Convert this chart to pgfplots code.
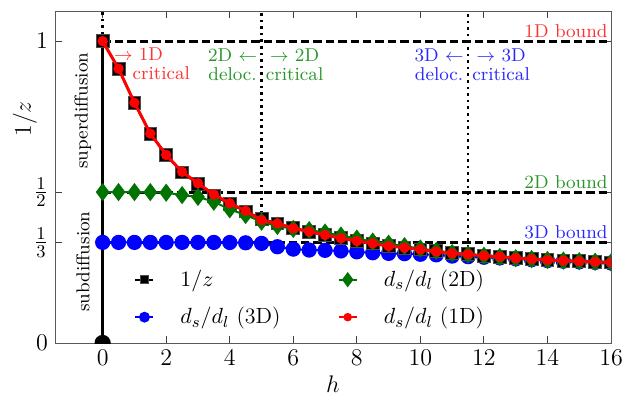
\documentclass[border=0pt]{standalone}
\usepackage{pgfplots}
\pgfplotsset{compat=1.18}
\definecolor{dgreen}{RGB}{0,115,0}
\definecolor{tgreen}{RGB}{40,150,40}
\definecolor{tred}{RGB}{255,50,50}
\definecolor{tblue}{RGB}{40,40,255}
\begin{document}
\begin{tikzpicture}
\begin{axis}[
  scale only axis, width=278pt, height=166pt,
  xmin=-1.5, xmax=16, ymin=0, ymax=1.1,
  xtick={0,2,...,16},
  ytick={0,0.333333,0.5,1},
  yticklabels={$0$,$\frac{1}{3}$,$\frac{1}{2}$,$1$},
  tick align=inside, major tick length=3.5pt,
  axis line style={black!65}, tick style={black!75, line width=0.5pt},
  ticklabel style={font=\fontsize{12.5}{14}\selectfont},
  label style={font=\fontsize{12.5}{14}\selectfont},
  xlabel={$h$}, ylabel={$1/z$},
  ylabel style={at={(axis description cs:-0.054,0.675)}, anchor=center},
  xlabel style={at={(axis description cs:0.5,-0.125)}, anchor=center},
  clip marker paths=true,
  legend columns=2, transpose legend,
  legend image code/.code={\draw[mark repeat=2,mark phase=2,#1] plot coordinates {(0pt,0pt)(4.5pt,0pt)(9pt,0pt)};},
  legend style={draw=none, fill=none, at={(axis cs:0.8,0.27)}, anchor=north west,
    font=\fontsize{11}{13}\selectfont, row sep=5pt,
    /tikz/every even column/.append style={column sep=26.5pt},
    /tikz/every odd column/.append style={column sep=11pt}},
  legend cell align=left,
]
% legend images
\addlegendimage{black, line width=1pt, mark=square*, mark size=2pt, mark options={fill=black, draw=black!70, line width=0.4pt}}
\addlegendentry{$1/z$}
\addlegendimage{blue, line width=1pt, mark=*, mark size=2.2pt, mark options={fill=blue, draw=blue}}
\addlegendentry{$d_s/d_l$ (3D)}
\addlegendimage{dgreen, line width=1pt, mark=diamond*, mark size=3pt, mark options={fill=dgreen, draw=dgreen}}
\addlegendentry{$d_s/d_l$ (2D)}
\addlegendimage{red, line width=1.2pt, mark=*, mark size=1.5pt, mark options={fill=red, draw=red}}
\addlegendentry{$d_s/d_l$ (1D)}

% guide lines
\addplot[forget plot, black, line width=1.5pt, dash pattern=on 4.2pt off 2pt] coordinates {(0,1) (16,1)};
\addplot[forget plot, black, line width=1.5pt, dash pattern=on 4.2pt off 2pt] coordinates {(0,0.5) (16,0.5)};
\addplot[forget plot, black, line width=1.5pt, dash pattern=on 4.2pt off 2pt] coordinates {(0,0.333333) (16,0.333333)};
\addplot[forget plot, black, line width=1.3pt, dash pattern=on 1.3pt off 2pt] coordinates {(0,1) (0,1.1)};
\addplot[forget plot, black, line width=1.3pt, dash pattern=on 1.3pt off 2pt] coordinates {(5,0.407) (5,1.1)};
\addplot[forget plot, black, line width=1.3pt, dash pattern=on 1.3pt off 2pt] coordinates {(11.5,0.294) (11.5,1.1)};
\addplot[forget plot, black, line width=1.5pt, mark=*, mark size=3.3pt, mark indices={1}] coordinates {(0,0) (0,1)};

% 3D (blue)
\addplot[forget plot, blue, line width=1pt, mark=*, mark size=3.3pt, mark options={fill=blue, draw=blue}] coordinates {
(0,0.3333)(0.5,0.3333)(1,0.3333)(1.5,0.3333)(2,0.3333)(2.5,0.3333)(3,0.3333)(3.5,0.3333)(4,0.333)(4.5,0.332)
(5,0.330)(5.5,0.319)(6,0.311)(6.5,0.308)(7,0.307)(7.5,0.305)(8,0.302)(8.5,0.299)(9,0.297)(9.5,0.296)
(10,0.294)(10.5,0.292)(11,0.288)(11.5,0.286)(12,0.284)(12.5,0.282)(13,0.279)(13.5,0.276)(14,0.273)(14.5,0.271)
(15,0.269)(15.5,0.267)(16,0.265)};

% 1/z (squares)
\addplot[forget plot, black, line width=1pt, mark=square*, mark size=3.2pt, mark options={fill=black, draw=black!70, line width=0.4pt}] coordinates {
(0,1.0)(0.5,0.909)(1,0.796)(1.5,0.694)(2,0.623)(2.5,0.565)(3,0.526)(3.5,0.488)(4,0.460)(4.5,0.436)
(5,0.412)(5.5,0.396)(6,0.381)(6.5,0.368)(7,0.357)(7.5,0.347)(8,0.338)(8.5,0.330)(9,0.322)(9.5,0.316)
(10,0.310)(10.5,0.305)(11,0.299)(11.5,0.294)(12,0.289)(12.5,0.286)(13,0.281)(13.5,0.278)(14,0.275)(14.5,0.273)
(15,0.271)(15.5,0.269)(16,0.267)};

% 2D (green diamonds)
\addplot[forget plot, dgreen, line width=1pt, mark=diamond*, mark size=3.75pt, mark options={fill=dgreen, draw=dgreen}] coordinates {
(0,0.5)(0.5,0.5)(1,0.5)(1.5,0.5)(2,0.498)(2.5,0.490)(3,0.484)(3.5,0.468)(4,0.443)(4.5,0.424)
(5,0.402)(5.5,0.388)(6,0.378)(6.5,0.374)(7,0.366)(7.5,0.356)(8,0.346)(8.5,0.336)(9,0.329)(9.5,0.321)
(10,0.313)(10.5,0.305)(11,0.298)(11.5,0.293)(12,0.289)(12.5,0.285)(13,0.281)(13.5,0.278)(14,0.275)(14.5,0.273)
(15,0.271)(15.5,0.269)(16,0.267)};

% 1D (red)
\addplot[forget plot, red, line width=1.5pt, mark=*, mark size=1.8pt, mark options={fill=red, draw=red}] coordinates {
(0,1.0)(0.5,0.909)(1,0.796)(1.5,0.694)(2,0.623)(2.5,0.567)(3,0.529)(3.5,0.492)(4,0.463)(4.5,0.438)
(5,0.407)(5.5,0.396)(6,0.380)(6.5,0.369)(7,0.358)(7.5,0.347)(8,0.338)(8.5,0.330)(9,0.321)(9.5,0.316)
(10,0.310)(10.5,0.303)(11,0.297)(11.5,0.294)(12,0.289)(12.5,0.286)(13,0.281)(13.5,0.278)(14,0.275)(14.5,0.273)
(15,0.271)(15.5,0.269)(16,0.267)};

% annotations
\begin{scope}[every node/.style={font=\fontsize{9.3}{9.6}\selectfont, inner sep=1.5pt}]
\node[tred, anchor=south east] at (axis cs:16,1) {1D bound};
\node[tgreen, anchor=south east] at (axis cs:16,0.5) {2D bound};
\node[tblue, anchor=south east] at (axis cs:16,0.333333) {3D bound};
\node[tred, anchor=north west, align=left] at (axis cs:0.25,0.99) {$\rightarrow$ 1D\\\hspace*{9.3pt}critical};
\node[tgreen, anchor=north east, align=center, inner sep=2pt] at (axis cs:5,0.99) {2D $\leftarrow$\\deloc.};
\node[tgreen, anchor=north west, align=center, inner sep=2pt] at (axis cs:5,0.99) {$\rightarrow$ 2D\\critical};
\node[tblue, anchor=north east, align=center, inner sep=2pt] at (axis cs:11.5,0.99) {3D $\leftarrow$\\deloc.};
\node[tblue, anchor=north west, align=center, inner sep=2pt] at (axis cs:11.5,0.99) {$\rightarrow$ 3D\\critical};
\node[black, rotate=90, font=\fontsize{9.3}{10}\selectfont] at (axis cs:-0.62,0.77) {superdiffusion};
\node[black, rotate=90, font=\fontsize{9.3}{10}\selectfont] at (axis cs:-0.62,0.27) {subdiffusion};
\end{scope}
\end{axis}
\pgfresetboundingbox
\path[use as bounding box] ([shift={(-27.5pt,-27pt)}]current axis.south west) rectangle ([shift={(12pt,5.5pt)}]current axis.north east);
\end{tikzpicture}
\end{document}
